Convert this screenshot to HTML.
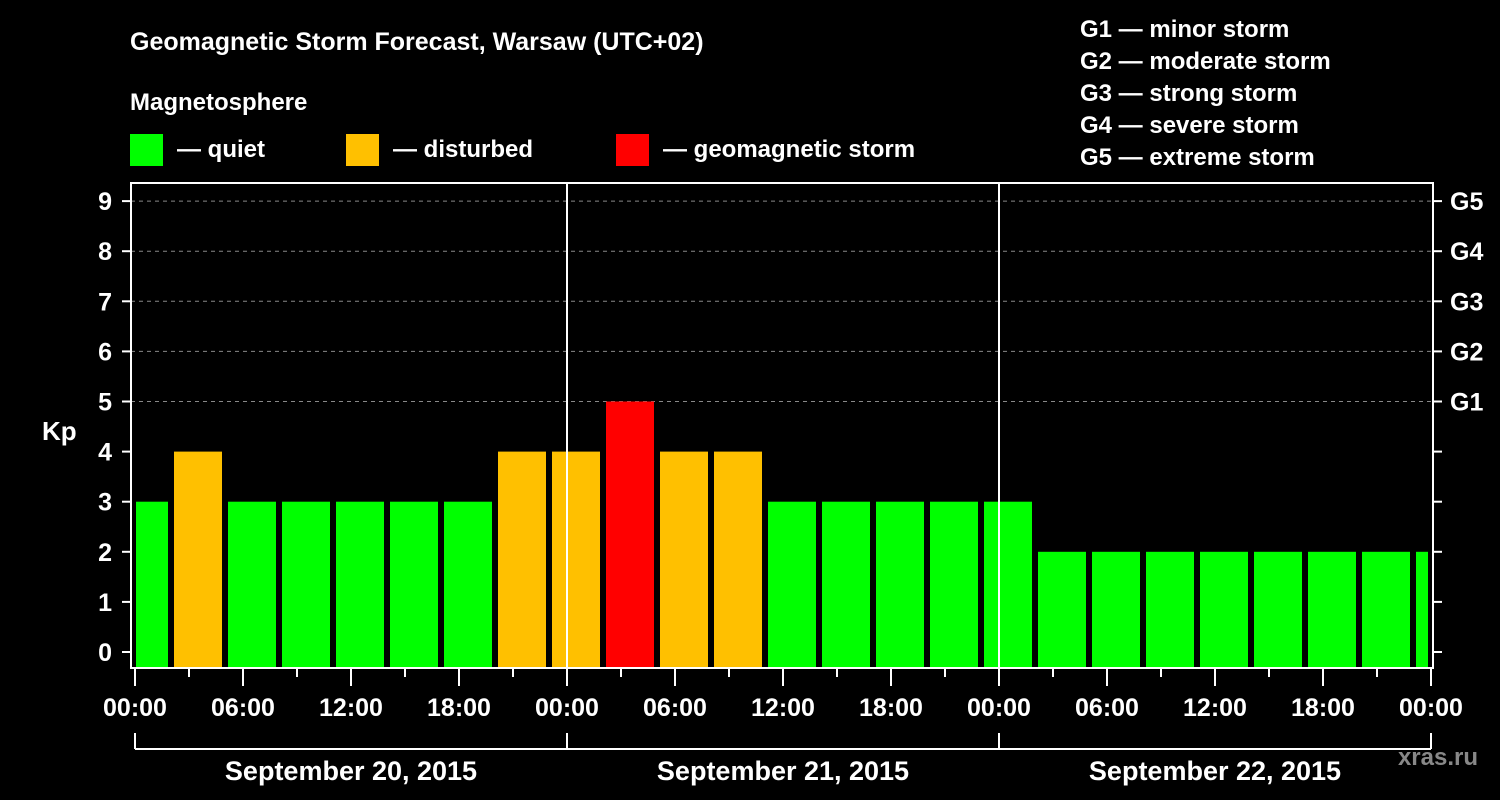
<!DOCTYPE html>
<html><head><meta charset="utf-8"><style>
body{margin:0;background:#000;}
svg{display:block;font-family:"Liberation Sans",Arial,sans-serif;font-weight:bold;}
</style></head><body>
<svg id="chart" width="1500" height="800" viewBox="0 0 1500 800">
<rect width="1500" height="800" fill="#000"/>
<text x="130" y="50" fill="#fff" font-size="25">Geomagnetic Storm Forecast, Warsaw (UTC+02)</text>
<text x="130" y="110" fill="#fff" font-size="24">Magnetosphere</text>
<g><rect x="130" y="134" width="33" height="32" fill="#00ff00"/><text x="177" y="157" fill="#fff" font-size="24">— quiet</text></g>
<g><rect x="346" y="134" width="33" height="32" fill="#ffc000"/><text x="393" y="157" fill="#fff" font-size="24">— disturbed</text></g>
<g><rect x="616" y="134" width="33" height="32" fill="#ff0000"/><text x="663" y="157" fill="#fff" font-size="24">— geomagnetic storm</text></g>
<g fill="#fff" font-size="24">
<text x="1080" y="37">G1 — minor storm</text>
<text x="1080" y="69">G2 — moderate storm</text>
<text x="1080" y="101">G3 — strong storm</text>
<text x="1080" y="133">G4 — severe storm</text>
<text x="1080" y="165">G5 — extreme storm</text>
</g>
<text x="42" y="440" fill="#fff" font-size="26">Kp</text>
<text x="1478" y="765" fill="#888" font-size="24" text-anchor="end">xras.ru</text>
<g id="grid"></g><g id="bars"></g><g id="axes"></g>
</svg>
<script>
const kpValues=[3,4,3,3,3,3,3,4,4,5,4,4,3,3,3,3,3,2,2,2,2,2,2,2,2];
const startHour=-1;
const yTicks=[0,1,2,3,4,5,6,7,8,9];
const gLabels=["G1","G2","G3","G4","G5"];
const xTickLabels=["00:00","06:00","12:00","18:00","00:00","06:00","12:00","18:00","00:00","06:00","12:00","18:00","00:00"];
const dayLabels=["September 20, 2015","September 21, 2015","September 22, 2015"];
const NS="http://www.w3.org/2000/svg";
const X0=135,PXH=18,Y0=652,PXU=50.1,L=131,R=1433,T=183,B=668;
const x=h=>X0+h*PXH, y=v=>Y0-v*PXU;
function mk(p,tag,a,txt){const e=document.createElementNS(NS,tag);for(const k in a)e.setAttribute(k,a[k]);if(txt!=null)e.textContent=txt;p.appendChild(e);return e;}
const grid=document.getElementById('grid'),bars=document.getElementById('bars'),axes=document.getElementById('axes');
const color=v=>v>=5?'#ff0000':v>=4?'#ffc000':'#00ff00';
kpValues.forEach((v,i)=>{
 const h=startHour+i*3;let x1=Math.max(x(h)+3,136),x2=Math.min(x(h+3)-3,1428);
 const r=mk(bars,'rect',{x:x1,y:y(v),width:x2-x1,height:B-y(v),fill:color(v)});
 
 
});
yTicks.forEach(v=>{
 if(v>=5){const g=mk(grid,'line',{x1:L,x2:R,y1:y(v),y2:y(v),stroke:'#888','stroke-dasharray':'4,4'});
 }
 mk(axes,'line',{x1:122,x2:L,y1:y(v),y2:y(v),stroke:'#fff','stroke-width':2});
 mk(axes,'line',{x1:R,x2:1442,y1:y(v),y2:y(v),stroke:'#fff','stroke-width':2});
 const t=mk(axes,'text',{x:112,y:y(v)+9,fill:'#fff','font-size':25,'text-anchor':'end'},v);
 
});
gLabels.forEach((g,i)=>{const t=mk(axes,'text',{x:1450,y:y(5+i)+9,fill:'#fff','font-size':25},g);
 });
mk(axes,'rect',{x:L,y:T,width:R-L,height:B-T,fill:'none',stroke:'#fff','stroke-width':2});
[24,48].forEach(h=>mk(axes,'line',{x1:x(h),x2:x(h),y1:T,y2:B,stroke:'#fff','stroke-width':2}));
for(let h=0;h<=72;h+=3){mk(axes,'line',{x1:x(h),x2:x(h),y1:B,y2:h%6?677:686,stroke:'#fff','stroke-width':2});}
xTickLabels.forEach((s,i)=>{const t=mk(axes,'text',{x:x(i*6),y:716,fill:'#fff','font-size':25,'text-anchor':'middle'},s);
 });
mk(axes,'line',{x1:x(0),x2:x(72),y1:749,y2:749,stroke:'#fff','stroke-width':2});
[0,24,48,72].forEach(h=>mk(axes,'line',{x1:x(h),x2:x(h),y1:733,y2:749,stroke:'#fff','stroke-width':2}));
dayLabels.forEach((s,i)=>{const t=mk(axes,'text',{x:x(i*24+12),y:780,fill:'#fff','font-size':27,'text-anchor':'middle'},s);
 });
</script>
</body></html>
